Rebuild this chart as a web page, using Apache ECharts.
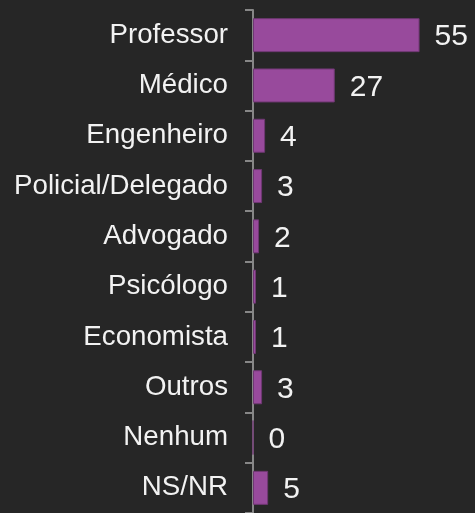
<!DOCTYPE html>
<html>
<head>
<meta charset="utf-8">
<script src="https://cdn.jsdelivr.net/npm/echarts@6/dist/echarts.min.js"></script>
<style>
  html, body { margin: 0; padding: 0; background: #262626; }
  #chart { width: 475px; height: 513px; }
</style>
</head>
<body>
<div id="chart"></div>
<script>
// Profissões
const categories = ['Professor', 'Médico', 'Engenheiro', 'Policial/Delegado', 'Advogado',
    'Psicólogo', 'Economista', 'Outros', 'Nenhum', 'NS/NR']
const values = [55, 27, 4, 3, 2, 1, 1, 3, 0, 5]

const chart = echarts.init(document.getElementById('chart'))

const option = {
    backgroundColor: '#262626',
    animation: false,
    textStyle: { fontFamily: 'Liberation Sans, Arial, sans-serif' },
    grid: {
        left: 253,
        right: 10,
        top: 10,
        bottom: -3,
        containLabel: false
    },
    xAxis: {
        type: 'value',
        min: 0,
        max: 70,
        show: false
    },
    yAxis: {
        type: 'category',
        inverse: true,
        data: categories,
        axisLine: {
            show: true,
            lineStyle: { color: '#878787', width: 2 }
        },
        axisTick: {
            show: true,
            length: 8,
            lineStyle: { color: '#878787', width: 2 }
        },
        axisLabel: {
            color: '#f2f2f2',
            fontSize: 27.7,
            margin: 25
        },
        splitLine: { show: false }
    },
    series: [{
        type: 'bar',
        data: values,
        barWidth: 34,
        itemStyle: {
            color: '#984a9c',
            borderColor: '#6f3873',
            borderWidth: 1
        },
        label: {
            show: true,
            position: 'right',
            distance: 15,
            offset: [0, 2],
            color: '#f2f2f2',
            fontSize: 30
        }
    }]
}

chart.setOption(option)
</script>
</body>
</html>
